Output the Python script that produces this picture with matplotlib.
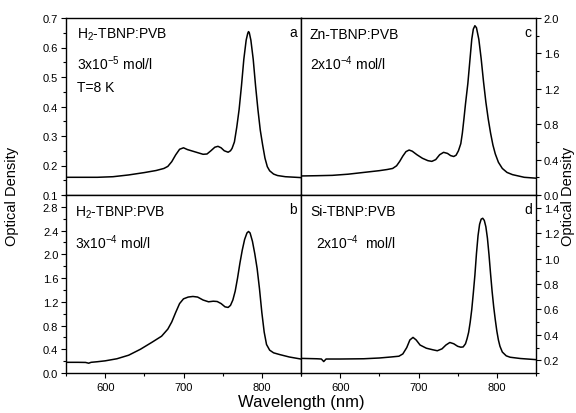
import matplotlib
matplotlib.use("Agg")
import matplotlib.pyplot as plt
from matplotlib.ticker import MultipleLocator, FuncFormatter

plt.rcParams['font.family'] = ['Liberation Sans', 'DejaVu Sans']
plt.rcParams['mathtext.fontset'] = 'custom'
plt.rcParams['mathtext.rm'] = 'Liberation Sans'
plt.rcParams['mathtext.it'] = 'Liberation Sans:italic'

# ---- data ----
wl_a = [550, 570, 590, 610, 630, 650, 665, 675, 680, 685, 690, 695, 700, 705, 715, 725,
        730, 735, 740, 744, 748, 752, 757, 760, 762, 765, 768, 771, 774, 777, 780, 782, 783,
        784, 786, 789, 792, 795, 798, 801, 804, 807, 810, 815, 820, 830, 850]
od_a = [0.160, 0.160, 0.160, 0.162, 0.168, 0.176, 0.183, 0.190, 0.197, 0.213, 0.236, 0.255,
        0.260, 0.254, 0.246, 0.238, 0.239, 0.250, 0.262, 0.265, 0.260, 0.250, 0.245, 0.250,
        0.258, 0.280, 0.330, 0.390, 0.470, 0.560, 0.625, 0.648, 0.654, 0.650, 0.625, 0.560,
        0.470, 0.390, 0.320, 0.270, 0.225, 0.196, 0.182, 0.171, 0.166, 0.162, 0.159]

wl_b = [550, 565, 575, 579, 582, 590, 600, 615, 630, 645, 660, 672, 680, 685, 690, 695,
        700, 706, 712, 718, 725, 732, 738, 743, 748, 753, 757, 760, 763, 766, 769, 772,
        775, 778, 781, 783, 785, 788, 791, 794, 797, 800, 803, 806, 810, 815, 823, 835, 850]
od_b = [0.180, 0.180, 0.178, 0.165, 0.180, 0.190, 0.205, 0.240, 0.300, 0.400, 0.520, 0.620,
        0.740, 0.860, 1.020, 1.170, 1.250, 1.280, 1.290, 1.280, 1.230, 1.200, 1.210, 1.205,
        1.170, 1.115, 1.105, 1.140, 1.230, 1.380, 1.600, 1.850, 2.070, 2.250, 2.360, 2.385,
        2.360, 2.220, 2.010, 1.760, 1.420, 1.020, 0.690, 0.480, 0.385, 0.340, 0.310, 0.270,
        0.235]

wl_c = [550, 570, 590, 610, 630, 650, 660, 667, 672, 676, 680, 684, 688, 692, 698, 705,
        712, 717, 722, 727, 732, 737, 741, 745, 748, 751, 754, 756, 758, 760, 763, 766,
        768, 770, 772, 774, 777, 780, 783, 786, 789, 792, 795, 798, 802, 807, 813, 820,
        835, 850]
od_c = [0.215, 0.218, 0.222, 0.235, 0.255, 0.275, 0.288, 0.300, 0.330, 0.380, 0.440, 0.490,
        0.508, 0.495, 0.455, 0.415, 0.388, 0.380, 0.400, 0.455, 0.482, 0.470, 0.445, 0.435,
        0.450, 0.500, 0.580, 0.700, 0.860, 1.030, 1.260, 1.560, 1.760, 1.875, 1.913, 1.890,
        1.760, 1.540, 1.280, 1.050, 0.860, 0.700, 0.565, 0.465, 0.370, 0.300, 0.255, 0.230,
        0.200, 0.190]

wl_d = [550, 570, 576, 579, 582, 600, 630, 650, 665, 675, 680, 685, 689, 693, 697, 702,
        710, 718, 724, 730, 735, 740, 745, 750, 754, 757, 760, 762, 764, 766, 768, 770,
        772, 774, 776, 778, 780, 782, 784, 786, 788, 790, 792, 794, 796, 798, 800, 802,
        804, 807, 812, 817, 830, 850]
od_d = [0.215, 0.212, 0.210, 0.190, 0.210, 0.210, 0.212, 0.218, 0.226, 0.232, 0.250, 0.300,
        0.360, 0.380, 0.360, 0.320, 0.295, 0.283, 0.275, 0.290, 0.320, 0.340, 0.330, 0.310,
        0.303, 0.305, 0.330, 0.370, 0.420, 0.500, 0.600, 0.730, 0.870, 1.040, 1.180, 1.270,
        1.310, 1.317, 1.300, 1.250, 1.160, 1.030, 0.880, 0.740, 0.620, 0.520, 0.430, 0.360,
        0.310, 0.265, 0.235, 0.224, 0.214, 0.205]

panel_letters = ['a', 'b', 'c', 'd']
texts_a = ['H$_2$-TBNP:PVB', '3x10$^{-5}$ mol/l', 'T=8 K']
texts_b = ['H$_2$-TBNP:PVB', '3x10$^{-4}$ mol/l']
texts_c = ['Zn-TBNP:PVB', '2x10$^{-4}$ mol/l']
texts_d = ['Si-TBNP:PVB', '2x10$^{-4}$  mol/l']

W, H = 576, 414
fig = plt.figure(figsize=(W / 100, H / 100), dpi=100)

def ax_at(x0, y0, x1, y1):
    return fig.add_axes([x0 / W, 1 - y1 / H, (x1 - x0) / W, (y1 - y0) / H])

axa = ax_at(66, 19, 301, 196)
axc = ax_at(301, 19, 536, 196)
axb = ax_at(66, 196, 301, 374)
axd = ax_at(301, 196, 536, 374)

lw = 1.1
for ax, x, y in [(axa, wl_a, od_a), (axb, wl_b, od_b), (axc, wl_c, od_c), (axd, wl_d, od_d)]:
    ax.plot(x, y, color='black', lw=lw, solid_joinstyle='round')
    ax.set_xlim(550, 850)
    ax.xaxis.set_major_locator(MultipleLocator(100))
    ax.xaxis.set_minor_locator(MultipleLocator(50))
    for s in ax.spines.values():
        s.set_linewidth(1.0)
    ax.tick_params(which='both', direction='out', labelsize=8, width=0.8, pad=2)
    ax.tick_params(which='major', length=3.5)
    ax.tick_params(which='minor', length=2)

axa.set_ylim(0.1, 0.7)
axa.yaxis.set_major_locator(MultipleLocator(0.1))
axa.yaxis.set_minor_locator(MultipleLocator(0.05))
axb.set_ylim(0.0, 3.0)
axb.set_yticks([0.0, 0.4, 0.8, 1.2, 1.6, 2.0, 2.4, 2.8])
axb.yaxis.set_minor_locator(MultipleLocator(0.2))
axc.set_ylim(0.0, 2.0)
axc.yaxis.set_major_locator(MultipleLocator(0.4))
axc.yaxis.set_minor_locator(MultipleLocator(0.2))
axd.set_ylim(0.1, 1.5)
axd.set_yticks([0.2, 0.4, 0.6, 0.8, 1.0, 1.2, 1.4])
axd.yaxis.set_minor_locator(MultipleLocator(0.1))

for ax in (axa, axb):
    ax.tick_params(axis='y', which='both', left=True, right=False, labelleft=True, labelright=False)
for ax in (axc, axd):
    ax.tick_params(axis='y', which='both', left=False, right=True, labelleft=False, labelright=True)
for ax in (axa, axc):
    ax.tick_params(axis='x', which='both', bottom=False, labelbottom=False)
for ax in (axb, axd):
    ax.tick_params(axis='x', which='both', bottom=True, labelbottom=True, pad=3)

def fmt(v, pos):
    return f"{v:.1f}"
for ax in (axa, axb, axc, axd):
    ax.yaxis.set_major_formatter(FuncFormatter(fmt))

fs = 10
def add_texts(ax, lines, ys, x):
    for t, yy in zip(lines, ys):
        ax.text(x, yy, t, transform=ax.transAxes, fontsize=fs, ha='left', va='center')

add_texts(axa, texts_a, [0.91, 0.75, 0.61], 0.047)
add_texts(axb, texts_b, [0.905, 0.74], 0.040)
add_texts(axc, texts_c, [0.91, 0.75], 0.038)
add_texts(axd, texts_d, [0.91, 0.74], 0.038)
axd.texts[-1].set_x(0.064)

for ax, letter in zip((axa, axb, axc, axd), panel_letters):
    ax.text(0.965, 0.92, letter, transform=ax.transAxes, fontsize=fs, ha='center', va='center')

fig.text(301 / W, 1 - 403 / H, 'Wavelength (nm)', fontsize=12, ha='center', va='center')
fig.text(12 / W, 1 - 196 / H, 'Optical Density', fontsize=10.5, rotation=90, ha='center', va='center')
fig.text(568 / W, 1 - 196 / H, 'Optical Density', fontsize=10.5, rotation=90, ha='center', va='center')

fig.savefig('out.png', dpi=100)
